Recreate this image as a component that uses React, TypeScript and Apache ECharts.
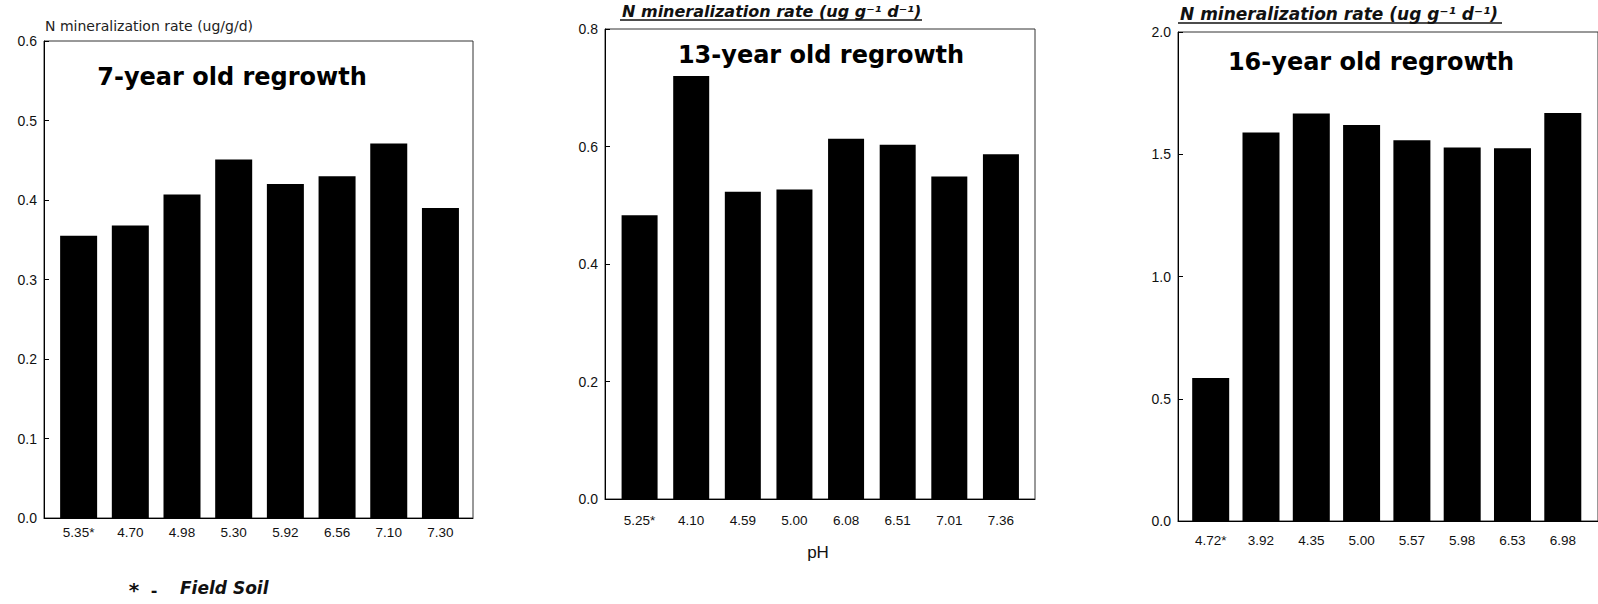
import React, { useEffect, useRef } from "react";
import * as echarts from "echarts";

// ---- data ----
const cats7 = ["5.35*", "4.70", "4.98", "5.30", "5.92", "6.56", "7.10", "7.30"];
const vals7 = [0.355, 0.368, 0.407, 0.451, 0.42, 0.43, 0.471, 0.39];
const cats13 = ["5.25*", "4.10", "4.59", "5.00", "6.08", "6.51", "7.01", "7.36"];
const vals13 = [0.483, 0.72, 0.523, 0.527, 0.613, 0.603, 0.549, 0.587];
const cats16 = ["4.72*", "3.92", "4.35", "5.00", "5.57", "5.98", "6.53", "6.98"];
const vals16 = [0.585, 1.589, 1.667, 1.62, 1.557, 1.528, 1.525, 1.669];

const titles = ["7-year old regrowth", "13-year old regrowth", "16-year old regrowth"];
const yTitle1 = "N mineralization rate (ug/g/d)";
const yTitleHand = "N mineralization rate (ug g\u207B\u00B9 d\u207B\u00B9)";

const SANS = "'Liberation Sans', Arial, sans-serif";
const DEJA = "'DejaVu Sans', sans-serif";

export default function App() {
  const ref = useRef<HTMLDivElement>(null);
  useEffect(() => {
    if (!ref.current) return;
    const chart = echarts.init(ref.current, undefined, { renderer: "svg" });

    const panels = [
      { cats: cats7, vals: vals7, grid: { left: 44, top: 41, width: 429, height: 477 }, xmin: -0.67, xmax: 7.63, ymax: 0.6, yint: 0.1, xm: 7, bw: 37 },
      { cats: cats13, vals: vals13, grid: { left: 605, top: 29, width: 430, height: 470 }, xmin: -0.67, xmax: 7.66, ymax: 0.8, yint: 0.2, xm: 14, bw: 36 },
      { cats: cats16, vals: vals16, grid: { left: 1178, top: 32, width: 430, height: 489 }, xmin: -0.65, xmax: 7.7, ymax: 2.0, yint: 0.5, xm: 12, bw: 37 },
    ];

    const grid = panels.map((p) => ({
      ...p.grid,
      show: true,
      borderColor: "#333",
      borderWidth: 1,
      backgroundColor: "transparent",
      containLabel: false,
    }));

    const xAxis = panels.map((p, i) => ({
      type: "value",
      gridIndex: i,
      min: p.xmin,
      max: p.xmax,
      axisLine: { show: true, onZero: false, lineStyle: { color: "#000", width: 1 } },
      axisTick: { show: false },
      splitLine: { show: false },
      axisLabel: {
        customValues: p.cats.map((_, k) => k),
        formatter: (v: number) => p.cats[Math.round(v)] ?? "",
        margin: p.xm,
        fontSize: 13.5,
        fontFamily: SANS,
        color: "#111",
      },
    }));

    const yAxis = panels.map((p, i) => ({
      type: "value",
      gridIndex: i,
      min: 0,
      max: p.ymax,
      interval: p.yint,
      axisLine: { show: true, onZero: false, lineStyle: { color: "#000", width: 1 } },
      axisTick: { show: true, inside: true, length: 5, lineStyle: { color: "#000" } },
      splitLine: { show: false },
      axisLabel: {
        formatter: (v: number) => v.toFixed(1),
        margin: 7,
        fontSize: 14,
        fontFamily: SANS,
        color: "#111",
      },
    }));

    const series = panels.map((p, i) => ({
      type: "bar",
      xAxisIndex: i,
      yAxisIndex: i,
      barWidth: p.bw,
      data: p.vals.map((v, k) => [k, v]),
      itemStyle: { color: "#000" },
    }));

    const titleStyle = { fontSize: 24, fontWeight: "bold", fontFamily: DEJA, fill: "#000", align: "center", verticalAlign: "middle" };
    const handStyle = { fontStyle: "italic", fontWeight: "bold", fontFamily: DEJA, fill: "#111", align: "left", verticalAlign: "middle" };

    const graphic = [
      { type: "text", x: 232, y: 77, style: { ...titleStyle, text: titles[0] } },
      { type: "text", x: 821, y: 55, style: { ...titleStyle, text: titles[1] } },
      { type: "text", x: 1371, y: 62, style: { ...titleStyle, text: titles[2] } },
      { type: "text", x: 45, y: 26, style: { text: yTitle1, fontSize: 14, fontFamily: DEJA, fill: "#222", align: "left", verticalAlign: "middle" } },
      { type: "text", x: 622, y: 11, style: { ...handStyle, fontSize: 16, text: yTitleHand } },
      { type: "line", shape: { x1: 620, y1: 20, x2: 922, y2: 20 }, style: { stroke: "#111", lineWidth: 1.5 } },
      { type: "text", x: 1180, y: 14, style: { ...handStyle, fontSize: 17, text: yTitleHand } },
      { type: "line", shape: { x1: 1178, y1: 23, x2: 1502, y2: 23 }, style: { stroke: "#111", lineWidth: 1.5 } },
      { type: "text", x: 818, y: 552, style: { text: "pH", fontSize: 17, fontFamily: SANS, fill: "#111", align: "center", verticalAlign: "middle" } },
      { type: "text", x: 134, y: 590, style: { text: "*", fontSize: 20, fontWeight: "bold", fontFamily: DEJA, fill: "#111", align: "center", verticalAlign: "middle" } },
      { type: "text", x: 154, y: 590, style: { text: "-", fontSize: 16, fontWeight: "bold", fontFamily: DEJA, fill: "#111", align: "center", verticalAlign: "middle" } },
      { type: "text", x: 180, y: 588, style: { text: "Field Soil", fontSize: 17, fontStyle: "italic", fontWeight: "bold", fontFamily: DEJA, fill: "#111", align: "left", verticalAlign: "middle" } },
    ];

    chart.setOption({
      animation: false,
      backgroundColor: "#fff",
      grid,
      xAxis,
      yAxis,
      series,
      graphic,
    } as any);

    return () => chart.dispose();
  }, []);

  return (
    <div
      ref={ref}
      style={{ position: "absolute", left: 0, top: 0, width: 1598, height: 604 }}
    />
  );
}
